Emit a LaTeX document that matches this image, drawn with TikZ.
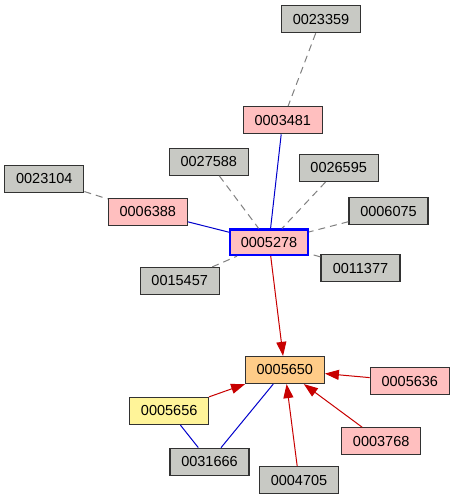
\documentclass[tikz,border=0pt]{standalone}
\usepackage{fontspec}
\setmainfont{Liberation Sans}
\usepackage{tikz}
\usetikzlibrary{arrows.meta}
\definecolor{boxgray}{RGB}{200,201,196}
\definecolor{boxpink}{RGB}{255,191,191}
\definecolor{boxorange}{RGB}{255,204,136}
\definecolor{boxyellow}{RGB}{255,244,153}
\definecolor{boxline}{RGB}{50,50,50}
\definecolor{dashgray}{RGB}{128,128,128}
\definecolor{linkblue}{RGB}{0,0,204}
\definecolor{arrowred}{RGB}{200,0,0}
\definecolor{mainblue}{RGB}{0,0,255}
\tikzset{
  idbox/.style={rectangle, draw=boxline, fill=boxgray, line width=1.2pt,
    minimum width=79pt, minimum height=27pt, inner sep=0pt,
    font=\fontsize{14.5}{16}\selectfont},
  pinkbox/.style={idbox, fill=boxpink},
  orangebox/.style={idbox, fill=boxorange},
  yellowbox/.style={idbox, fill=boxyellow},
  mainbox/.style={idbox, fill=boxpink, draw=mainblue, line width=2.2pt,
    minimum width=78pt, minimum height=25.5pt},
  dashlink/.style={dashgray, line width=1pt, dash pattern=on 7pt off 5pt},
  bluelink/.style={linkblue, line width=1pt},
  redarrow/.style={-{Triangle[length=14pt, width=10pt]}, arrowred, line width=1pt}
}

\begin{document}
\begin{tikzpicture}[x=1pt, y=-1pt]
  \useasboundingbox[fill=white] (0,0) rectangle (455,500);

  % nodes
  \node[idbox] (n23359) at (321,19.2) {0023359};
  \node[pinkbox] (n3481) at (282.8,120.2) {0003481};
  \node[idbox] (n27588) at (208.8,161.8) {0027588};
  \node[idbox] (n26595) at (338.7,168) {0026595};
  \node[idbox] (n23104) at (44.3,178.8) {0023104};
  \node[pinkbox] (n6388) at (147.8,211.7) {0006388};
  \node[idbox] (n6075) at (388.5,211.3) {0006075};
  \node[mainbox] (n5278) at (269,242.3) {0005278};
  \node[idbox] (n15457) at (179.7,281) {0015457};
  \node[idbox] (n11377) at (360.5,268.3) {0011377};
  \node[orangebox] (n5650) at (284.8,370) {0005650};
  \node[pinkbox] (n5636) at (409.8,381.2) {0005636};
  \node[yellowbox] (n5656) at (169.2,411) {0005656};
  \node[pinkbox] (n3768) at (381.2,441.3) {0003768};
  \node[idbox] (n31666) at (209.5,461.7) {0031666};
  \node[idbox] (n4705) at (299,480.2) {0004705};

  % dashed links
  \draw[dashlink] (n23359) -- (n3481);
  \draw[dashlink] (n27588) -- (n5278);
  \draw[dashlink] (n26595) -- (n5278);
  \draw[dashlink] (n23104) -- (n6388);
  \draw[dashlink] (n6075) -- (n5278);
  \draw[dashlink] (n15457) -- (n5278);
  \draw[dashlink] (n11377) -- (n5278);

  % blue links
  \draw[bluelink] (n3481) -- (n5278);
  \draw[bluelink] (n6388) -- (n5278);
  \draw[bluelink] (n5650) -- (n31666);
  \draw[bluelink] (n5656) -- (n31666);

  % red arrows
  \draw[redarrow] (n5278) -- (n5650);
  \draw[redarrow] (n5636) -- (n5650);
  \draw[redarrow] (n5656) -- (n5650);
  \draw[redarrow] (n3768) -- (n5650);
  \draw[redarrow] (n4705) -- (n5650);
\end{tikzpicture}
\end{document}
